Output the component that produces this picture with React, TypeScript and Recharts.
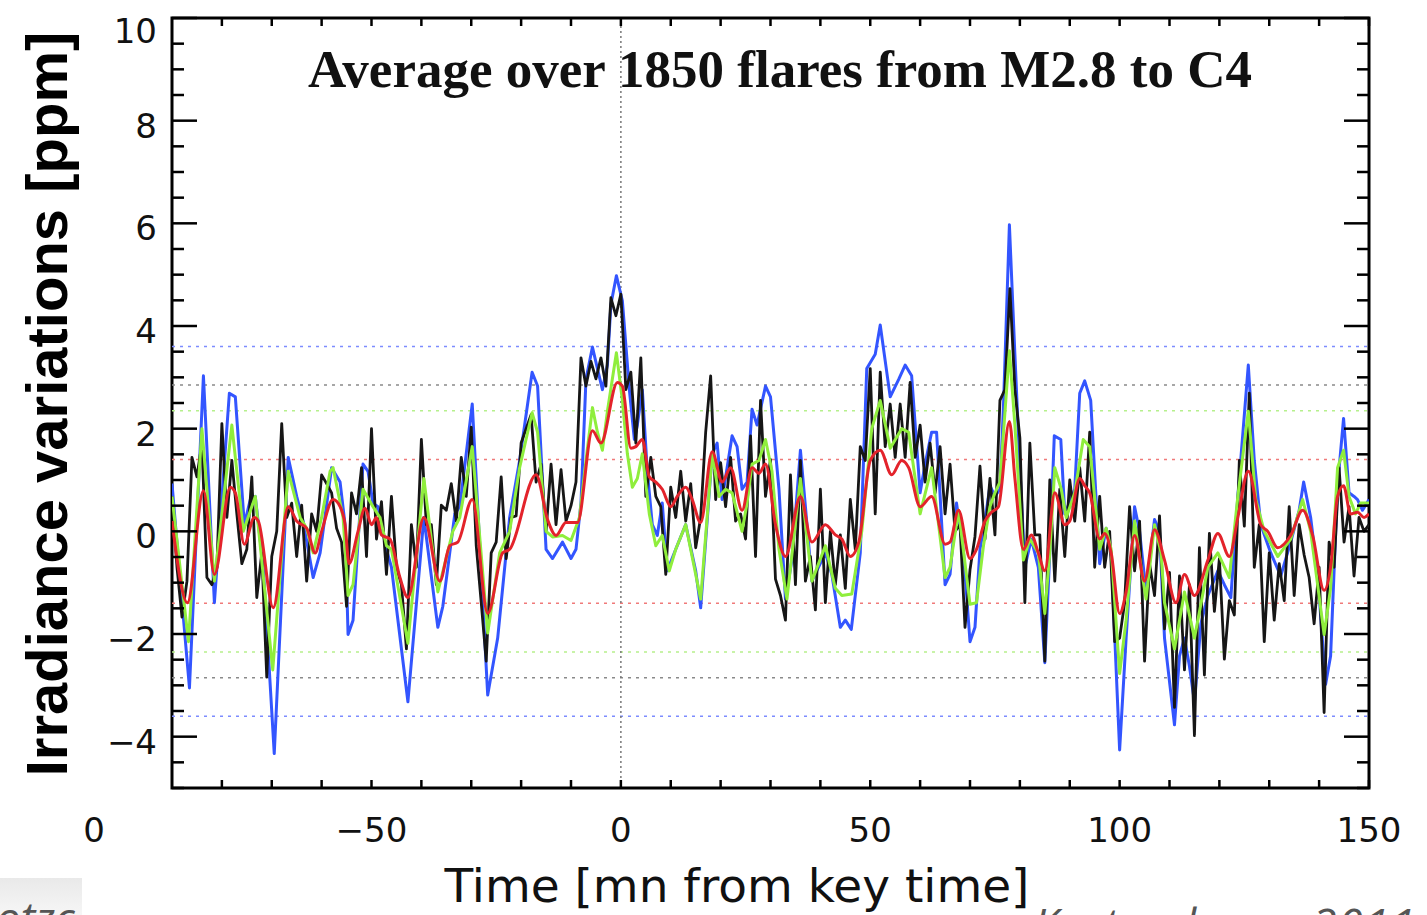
import React from 'react';
import { LineChart, Line, XAxis, YAxis, ReferenceLine, ReferenceArea } from 'recharts';

// 1-minute averaged signal, one value per minute starting at -90
const blackStart = -90;
const blackVals = [
  0.68, -0.7, -1.67, -0.97, 1.44, 1.06, 1.72, -0.9, -1.04, -0.7,
  2.1, 0.27, 1.38, 0.34, -0.63, -0.35, 1.06, -1.29, -0.42, -2.84,
  -0.49, 0.0, 2.1, 0.27, 0.55, -0.49, 0.51, -0.97, 0.34, 0.0,
  1.1, 0.93, 0.75, 0.06, -0.21, -1.46, 0.75, 0.34, 1.24, -0.49,
  2.0, -0.15, 0.58, -0.84, 0.68, -0.7, -1.04, -2.29, 0.13, -0.7,
  1.79, 0.13, 0.13, -1.04, 0.51, 0.41, 0.93, 0.2, 1.44, 0.68,
  2.03, -0.28, -1.39, -2.53, -0.42, -0.21, 1.06, -0.53, 0.27, 0.3,
  1.72, 2.0, 2.27, 0.96, 1.31, 0.0, 1.31, 0.13, 1.2, 0.2,
  0.5, 0.96, 3.38, 2.83, 3.31, 2.97, 3.38, 2.83, 4.55, 4.2,
  4.62, 2.76, 3.1, 1.72, 3.38, 0.68, 1.44, 0.68, 0.48, -0.84,
  0.86, 0.27, 1.17, 0.2, 0.93, -0.32, 0.27, 1.93, 3.03, 0.62,
  1.34, 0.48, 1.44, 0.2, 0.34, -0.15, 1.86, -0.49, 2.55, 0.68,
  1.4, -0.93, -1.25, -1.73, 1.1, -1.04, 1.38, -0.97, -0.49, -1.53,
  0.82, -1.39, 0.0, -1.04, -0.07, -1.11, 0.62, -0.35, 1.65, 1.38,
  3.17, 0.34, 3.1, 1.65, 2.48, 1.44, 2.48, 1.44, 2.9, 1.44,
  2.07, 0.96, 1.72, 0.75, 1.65, 0.34, 1.31, 0.0, 0.13, -1.87,
  -0.75, -0.1, 1.27, -0.15, 1.03, -0.07, 2.55, 2.76, 4.73, 2.76,
  1.82, -1.39, 1.72, -0.07, -0.07, -2.53, 1.0, -0.97, 0.82, -0.49,
  1.0, 0.2, 1.24, 0.2, 1.93, -0.7, 0.68, -0.7, 0.0, -2.15,
  -2.08, -1.39, 0.48, -0.77, 0.2, -2.53, -0.63, -1.25, 0.3, -1.9,
  -0.8, -3.43, -0.87, -2.7, -1.04, -3.98, -0.32, -2.8, -0.04, -1.56,
  -0.53, -2.49, -1.35, -1.63, 1.38, 0.1, 2.69, -0.7, 0.13, -2.15,
  -0.42, -1.73, -0.63, -1.35, 0.48, -1.25, 0.13, -0.46, -0.9, -1.8,
  -0.7, -3.53, -0.21, -0.7, 1.24, -0.21, 0.48, -0.87, 0.27, 0.0,
  0.13,
];

// blue curve
const blueT = [
  -90, -88.5, -86.5, -83.7, -81.5, -78.5, -77.3, -75.5, -74.3, -73.3, -71.7, -69.5, -66.7, -65, -63.7,
  -61.7, -60.3, -58, -56.3, -55.3, -54.7, -53.7, -51.7, -50.7, -49.7, -48.7, -47, -46, -42.7, -39.5,
  -36.7, -35.7, -33.3, -32.3, -29.8, -26.7, -24.7, -22.3, -20.3, -17.8, -16.7, -15, -13.7, -11.7, -10,
  -9, -8, -7, -5.7, -4.7, -3.7, -2.7, -2, -0.9, 0.3, 1.7, 2.7, 3.3, 4.3, 5.3,
  6.3, 7.3, 8.3, 9.3, 11, 13, 15, 16, 18.3, 19.3, 20.3, 21.3, 22.3, 23.3, 24.3,
  25.3, 26.3, 27.3, 29, 30, 31.7, 33, 34.3, 36, 37, 38.3, 41, 42.3, 44, 45,
  46.2, 48, 49.3, 51, 52, 54, 55.7, 57, 58.3, 60, 61, 62.3, 63.3, 65, 66,
  67.3, 68.7, 70, 71, 72, 73, 74, 75, 76, 76.7, 77.9, 79, 80, 81, 82.3,
  83.7, 85, 86, 86.9, 88.2, 89, 91, 92, 93, 94.2, 96, 97.3, 98.3, 100, 101.3,
  103, 104, 105.3, 107, 108, 109, 111, 112, 113, 114, 115, 116.3, 117.7, 119.7, 121,
  122.3, 123.7, 125.8, 127, 128.3, 130.3, 132.3, 134.3, 136, 136.9, 138.3, 139.7, 141.3, 142.3, 143.7,
  144.9, 146, 147, 147.7, 148.7, 150,
];
const blueV = [
  0.93, -0.8, -3.05, 3.03, -1.39, 2.69, 2.62, 0.13, 0.62, 0.68, -0.7, -4.33, 1.44, 0.68, 0.2,
  -0.9, -0.42, 1.24, 0.96, 0.13, -2.01, -1.73, 1.31, 1.17, 0.55, 0.48, -0.35, -0.7, -3.32, 0.27,
  -1.87, -1.46, 0.34, 0.48, 2.48, -3.19, -2.08, 0.27, 1.38, 3.1, 2.83, -0.35, -0.53, -0.21, -0.53,
  -0.35, 0.55, 2.96, 3.59, 3.17, 2.76, 3.24, 4.42, 4.98, 4.49, 2.76, 1.79, 2.07, 2.76, 1.17,
  0.13, -0.08, 0.55, -0.77, -0.35, 0.13, -0.77, -1.49, 1.51, 1.72, 0.62, 1.24, 1.86, 1.65, 0.82,
  0.96, 2.38, 2.07, 2.83, 2.62, 0.82, -1.32, -0.56, 1.58, 0.48, -0.97, -0.42, -0.84, -1.87, -1.73,
  -1.91, -0.42, 3.17, 3.45, 4.02, 2.62, 2.96, 3.24, 3.03, 0.75, 1.31, 1.93, 1.93, -1.04, -0.84,
  0.55, -0.42, -2.15, -1.87, -0.35, 0.2, 0.89, 0.68, 0.82, 2.41, 5.97, 3.45, 1.24, -0.7, -0.15,
  -0.7, -2.56, -0.42, 1.86, 1.79, 0.34, 0.82, 2.69, 2.93, 2.55, -0.63, 0.06, -0.42, -4.26, -2.08,
  0.48, 0.0, -1.18, 0.23, 0.0, -2.08, -3.77, -2.43, -2.08, -2.63, -3.32, -1.8, -1.25, -0.77, -1.04,
  -1.29, 0.68, 3.24, 1.38, 0.13, -0.42, -0.87, -0.21, 0.41, 0.96, 0.27, -0.84, -2.98, -2.43, 0.89,
  2.2, 0.75, 0.68, 0.62, 0.41, 0.62,
];

// green curve
const greenT = [
  -90, -86.7, -84, -81.5, -78, -75.7, -73.3, -69.8, -66.7, -64.3, -63, -61.7, -60, -58.3, -57.7,
  -55.7, -54.7, -53.7, -51.7, -49.7, -48.3, -47, -46, -42.7, -39.5, -36.7, -33.7, -32.3, -29.8, -26.7,
  -24.3, -22.3, -20.3, -17.8, -16.7, -15, -13.7, -11.7, -10, -8.3, -7, -5.7, -4.7, -3.7, -2.7,
  -0.9, 0.3, 1.3, 2.3, 3.3, 4.3, 5.7, 7, 8.3, 9.7, 11, 13, 16, 18.3, 19.7,
  21, 22.3, 24.3, 25.3, 26.3, 27.7, 29, 30.3, 31.7, 33.3, 36, 38.3, 41, 43, 44.3,
  46.3, 48.3, 50.3, 52, 54, 56.3, 57.7, 60, 62.3, 65, 66, 67.7, 70, 71.3, 72.7,
  74, 75, 76, 77.9, 79, 80.7, 82, 83.7, 85, 86, 87, 88.3, 89.3, 91, 92.7,
  94, 96, 97.3, 98.3, 100, 101.3, 103, 104.3, 105.3, 107, 108.3, 109, 111, 113, 115,
  117.7, 119.7, 122, 123.7, 125.8, 127.3, 129, 131.7, 134.3, 136.7, 138.3, 141, 142.3, 143.7, 144.9,
  146, 147.3, 148.3, 150,
];
const greenV = [
  0.68, -2.15, 2.0, -0.97, 2.07, 0.0, 0.68, -2.7, 1.17, 0.27, 0.06, -0.42, 0.27, 1.17, 1.24,
  0.27, -1.25, -1.04, 0.82, 0.48, 0.27, -0.28, -0.35, -2.18, 1.03, -1.18, 0.0, 0.27, 1.65, -1.98,
  -0.42, 0.0, 1.24, 2.31, 1.93, 0.0, -0.11, -0.08, -0.18, 0.27, 1.38, 2.41, 1.93, 1.58, 2.34,
  3.48, 2.55, 1.51, 0.86, 1.03, 1.51, 0.34, -0.28, -0.08, -0.77, -0.35, 0.13, -1.32, 1.51, 0.68,
  0.82, 0.75, 0.0, 0.55, 1.31, 1.38, 1.79, 1.17, -0.35, -1.32, 1.03, -0.97, -0.28, -1.11, -1.25,
  -1.22, 0.0, 2.0, 2.55, 1.62, 2.0, 1.93, 0.34, 1.24, -0.9, -0.7, 0.41, -1.42, -1.39, -0.28,
  0.48, 0.75, 0.96, 3.52, 2.07, -0.56, -0.15, -0.42, -1.6, -0.42, 1.24, 0.82, 0.27, 0.75, 1.79,
  1.65, -0.35, 0.06, -0.35, -2.77, -1.73, 0.2, -0.7, -1.32, 0.13, -0.42, -1.39, -2.29, -1.18, -2.08,
  -0.7, -0.42, -0.9, 0.68, 2.34, 0.62, 0.0, -0.49, -0.15, 0.62, 0.0, -2.01, -1.11, 1.24, 1.58,
  0.68, 0.34, 0.55, 0.55,
];

// red (smoothest) curve
const redT = [
  -90, -86.9, -83.7, -81.5, -78.3, -77.3, -75.5, -73.5, -72.7, -69.7, -66.7, -65, -63, -61.3, -60,
  -57.7, -56.3, -55.3, -54.5, -52.7, -51.3, -50, -49, -48, -46.3, -44.3, -42.7, -39.5, -36.3, -34.3,
  -32.7, -29.8, -26.7, -23.7, -22.3, -17, -14.7, -13, -11, -8.7, -5.7, -4, -0.7, 0.3, 2,
  3, 4.3, 5.7, 7, 8.3, 10, 11.3, 13, 14.3, 16, 18.3, 20.3, 22, 24.3, 26.3,
  27.7, 29, 31, 33, 36, 38.3, 41, 43, 44.3, 46, 47.7, 50, 52, 54.3, 56.3,
  57.7, 60, 62.3, 65, 66, 67.7, 70, 71.3, 73, 74.3, 75.7, 77.9, 79, 80.7, 82.3,
  83.7, 85, 87, 89, 90, 92, 93, 94, 96, 97, 98.3, 100, 101.3, 103, 105,
  107, 109, 111.3, 113, 115, 117.7, 119.7, 122, 123.7, 125.8, 128.3, 129.7, 131.7, 134.3, 136.7,
  138.7, 141, 142.3, 143.7, 144.9, 146.3, 147.7, 149, 150,
];
const redV = [
  0.2, -1.39, 0.79, -0.84, 0.86, 0.75, -0.25, 0.27, 0.2, -1.49, 0.48, 0.2, 0.06, -0.42, 0.0,
  0.62, 0.48, 0.13, -0.63, 0.0, 0.45, 0.13, 0.27, -0.07, -0.15, -0.9, -1.29, 0.27, -0.97, -0.28,
  -0.21, 0.62, -1.6, -0.42, -0.35, 1.1, 0.23, -0.08, 0.17, 0.17, 1.96, 1.72, 2.9, 2.83, 1.62,
  1.65, 1.79, 1.06, 0.96, 0.82, 0.48, 0.68, 0.86, 0.62, 0.17, 1.55, 0.96, 1.24, 0.41, 1.24,
  1.13, 1.31, 0.13, -0.49, 0.68, -0.21, 0.13, -0.07, -0.15, -0.49, -0.21, 1.38, 1.58, 1.1, 1.38,
  1.24, 0.48, 0.68, -0.25, -0.21, 0.41, -0.53, -0.35, 0.2, 0.37, 0.48, 2.14, 1.03, -0.35, -0.07,
  -0.42, -0.77, 0.75, 0.13, 0.2, 1.03, 0.89, 0.75, -0.15, -0.04, -0.42, -1.6, -1.18, -0.08, -0.97,
  0.03, -0.56, -1.39, -0.84, -1.25, -0.56, -0.04, -0.49, 0.27, 1.17, 0.13, 0.0, -0.32, -0.08, 0.41,
  -0.08, -1.15, -0.7, 0.68, 0.89, 0.34, 0.37, 0.27, 0.34,
];

// dotted significance levels per curve
const blueLevel = 3.6;
const blackLevel = 2.85;
const greenLevel = 2.35;
const redLevel = 1.4;

const xTicks = [-80, -70, -60, -50, -40, -30, -20, -10, 0, 10, 20, 30, 40, 50, 60, 70, 80, 90, 100, 110, 120, 130, 140, 150];
const xLabels = [-50, 0, 50, 100, 150];
const yLabels = [10, 8, 6, 4, 2, 0, -2, -4];
const yTicks = Array.from({ length: 31 }, (_, i) => -5 + i * 0.5);

const BLUE = '#3355ff';
const GREEN = '#8fee3c';
const RED = '#e3232b';
const BLACK = '#161616';

const W = 1427;
const H = 915;
const PLOT_L = 172;
const PLOT_R = 1369;
const PLOT_T = 18;
const PLOT_B = 788;

const TICK_FONT = '"DejaVu Sans", sans-serif';

const fmt = (v: number) => (v < 0 ? '\u2212' + Math.abs(v) : String(v));

const pairs = (t: number[], v: number[]) => t.map((x, i) => ({ t: x, v: v[i] }));

// inward ticks on both left and right frame edges
const YTick = (props: any) => {
  const { y, payload } = props;
  const v = payload.value as number;
  const major = Number.isInteger(v) && v % 2 === 0;
  const len = major ? 25 : 12;
  return (
    <g>
      <line x1={PLOT_L} x2={PLOT_L + len} y1={y} y2={y} stroke="#000" strokeWidth={2.5} />
      <line x1={PLOT_R - len} x2={PLOT_R} y1={y} y2={y} stroke="#000" strokeWidth={2.5} />
      {yLabels.includes(v) && (
        <text
          x={157}
          y={y + (v === 10 ? 25 : 17)}
          textAnchor="end"
          fontFamily={TICK_FONT}
          fontSize={34}
          fill="#111"
        >
          {fmt(v)}
        </text>
      )}
    </g>
  );
};

// inward ticks on both bottom and top frame edges
const XTick = (props: any) => {
  const { x, payload } = props;
  const v = payload.value as number;
  return (
    <g>
      <line x1={x} x2={x} y1={PLOT_B} y2={PLOT_B - 8} stroke="#000" strokeWidth={2.5} />
      <line x1={x} x2={x} y1={PLOT_T} y2={PLOT_T + 8} stroke="#000" strokeWidth={2.5} />
      {xLabels.includes(v) && (
        <text x={x} y={842} textAnchor="middle" fontFamily={TICK_FONT} fontSize={34} fill="#111">
          {fmt(v)}
        </text>
      )}
    </g>
  );
};

export default function App() {
  const blackData = blackVals.map((v, i) => ({ t: blackStart + i, v }));
  const blueData = pairs(blueT, blueV);
  const greenData = pairs(greenT, greenV);
  const redData = pairs(redT, redV);

  const level = (y: number, color: string) => (
    <ReferenceLine key={`${color}${y}`} y={y} stroke={color} strokeWidth={1.5} strokeDasharray="3 5" />
  );

  return (
    <div style={{ position: 'fixed', left: 0, top: 0, width: W, height: H, overflow: 'hidden', background: '#fff' }}>
      <LineChart width={W} height={H} margin={{ top: PLOT_T, right: W - PLOT_R, bottom: 67, left: 92 }}>
        <XAxis
          type="number"
          dataKey="t"
          domain={[-90, 150]}
          ticks={xTicks}
          interval={0}
          allowDataOverflow
          height={60}
          axisLine={false}
          tickLine={false}
          tick={<XTick />}
        />
        <YAxis
          type="number"
          domain={[-5, 10]}
          ticks={yTicks}
          interval={0}
          allowDataOverflow
          width={80}
          axisLine={false}
          tickLine={false}
          tick={<YTick />}
        />
        {level(blueLevel, '#7d8cff')}
        {level(-blueLevel, '#7d8cff')}
        {level(blackLevel, '#8a8a8a')}
        {level(-blackLevel, '#8a8a8a')}
        {level(greenLevel, '#b6f08c')}
        {level(-greenLevel, '#b6f08c')}
        {level(redLevel, '#f07a7a')}
        {level(-redLevel, '#f07a7a')}
        <ReferenceLine x={0} stroke="#777" strokeWidth={1.5} strokeDasharray="2 3" />
        <Line data={blueData} dataKey="v" type="linear" stroke={BLUE} strokeWidth={3} strokeLinejoin="round" dot={false} isAnimationActive={false} />
        <Line data={blackData} dataKey="v" type="linear" stroke={BLACK} strokeWidth={2.8} strokeLinejoin="round" dot={false} isAnimationActive={false} />
        <Line data={greenData} dataKey="v" type="linear" stroke={GREEN} strokeWidth={3} strokeLinejoin="round" dot={false} isAnimationActive={false} />
        <Line data={redData} dataKey="v" type="monotone" stroke={RED} strokeWidth={3} dot={false} isAnimationActive={false} />
        <ReferenceArea x1={-90} x2={150} y1={-5} y2={10} fill="none" stroke="#000" strokeWidth={3} ifOverflow="visible" />
      </LineChart>

      <svg width={W} height={H} style={{ position: 'absolute', left: 0, top: 0, pointerEvents: 'none' }}>
        <text
          x={780}
          y={87}
          textAnchor="middle"
          fontFamily='"Liberation Serif", "Times New Roman", serif'
          fontWeight="bold"
          fontSize={53}
          fill="#111"
        >
          Average over 1850 flares from M2.8 to C4
        </text>
        <text
          transform="translate(67 404) rotate(-90)"
          textAnchor="middle"
          fontFamily='"Liberation Sans", Arial, sans-serif'
          fontWeight="bold"
          fontSize={58}
          fill="#000"
        >
          Irradiance variations [ppm]
        </text>
        <text x={737} y={902} textAnchor="middle" fontFamily={TICK_FONT} fontSize={47} fill="#111">
          Time [mn from key time]
        </text>
        <text x={94} y={842} textAnchor="middle" fontFamily={TICK_FONT} fontSize={34} fill="#111">
          0
        </text>
        <defs>
          <linearGradient id="tag" x1="0" y1="0" x2="0" y2="1">
            <stop offset="0" stopColor="#e9e9e9" />
            <stop offset="1" stopColor="#f6f6f6" />
          </linearGradient>
          <clipPath id="tagClip">
            <rect x={0} y={878} width={82} height={37} />
          </clipPath>
        </defs>
        <rect x={0} y={878} width={82} height={37} fill="url(#tag)" />
        <text
          x={-4}
          y={934}
          clipPath="url(#tagClip)"
          fontFamily='"Open Sans", sans-serif'
          fontStyle="italic"
          fontSize={44}
          fill="#555"
        >
          otzc
        </text>
        <text
          x={1034}
          y={940}
          fontFamily='"Open Sans", sans-serif'
          fontStyle="italic"
          fontSize={44}
          fill="#555"
          letterSpacing={2}
        >
          Kretzschmar 2011
        </text>
      </svg>
    </div>
  );
}
